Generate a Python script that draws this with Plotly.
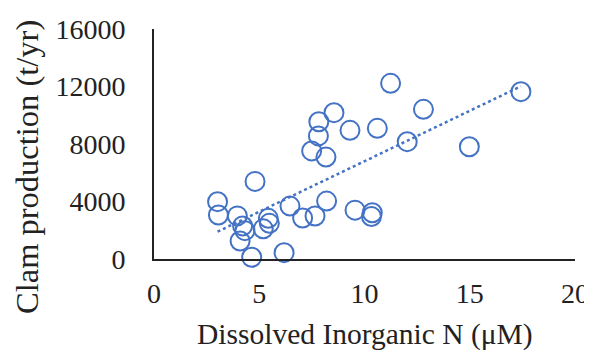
import numpy as np
import plotly.graph_objects as go

din = [3.02, 3.06, 3.96, 4.21, 4.32, 4.09, 4.64, 5.19, 5.43, 5.48, 4.80, 6.18, 6.46, 7.06,
       7.65, 8.20, 7.49, 8.17, 7.81, 7.83, 8.55, 9.31, 10.61, 11.24, 12.80, 12.03, 9.55,
       10.37, 10.33, 14.98, 17.43]
clam = [3990, 3060, 3000, 2300, 1970, 1250, 120, 2100, 2830, 2480, 5400, 440, 3680, 2850,
        2990, 4030, 7520, 7090, 8560, 9550, 10180, 8950, 9090, 12220, 10410, 8160, 3400,
        3220, 2950, 7810, 11640]

x_ticks = [0, 5, 10, 15, 20]
y_ticks = [0, 4000, 8000, 12000, 16000]
y_tick_text = ["0", "4000", "8000", "12000", "16000"]

color = "#4472C4"
font = "Liberation Serif, Times New Roman, serif"

slope, intercept = np.polyfit(din, clam, 1)
tx = np.array([min(din), max(din)])
ty = slope * tx + intercept

fig = go.Figure()
fig.add_trace(go.Scatter(x=din, y=clam, mode="markers",
                         marker=dict(symbol="circle-open", size=19, color=color,
                                     line=dict(width=2, color=color)),
                         showlegend=False, cliponaxis=False))
fig.add_trace(go.Scatter(x=tx, y=ty, mode="lines",
                         line=dict(color=color, width=2.5, dash="dot"),
                         showlegend=False))

# page has an 8px body margin; figure is sized/offset to compensate
fig.update_layout(
    width=584, height=343,
    margin=dict(l=146, r=17, t=21, b=92),
    paper_bgcolor="white", plot_bgcolor="white",
    font=dict(family=font, size=28, color="#222"),
    xaxis=dict(range=[0, 20], tickvals=x_ticks, showgrid=False, zeroline=False,
               showline=True, linecolor="#222", linewidth=2, ticks="",
               ticklabelstandoff=8, automargin=False),
    yaxis=dict(range=[0, 16000], tickvals=y_ticks, ticktext=y_tick_text,
               showgrid=False, zeroline=False,
               showline=True, linecolor="#222", linewidth=2, ticks="",
               ticklabelstandoff=21, automargin=False),
    annotations=[
        dict(text="Clam production (t/yr)", xref="paper", yref="paper",
             x=-0.3017, y=0.40, xanchor="center", yanchor="middle",
             textangle=-90, showarrow=False, font=dict(size=32.5)),
        dict(text="Dissolved Inorganic N (μM)", xref="paper", yref="paper",
             x=0.5, y=-0.330, xanchor="center", yanchor="middle",
             showarrow=False, font=dict(size=29.5)),
    ],
)

fig.write_html("out.html")
